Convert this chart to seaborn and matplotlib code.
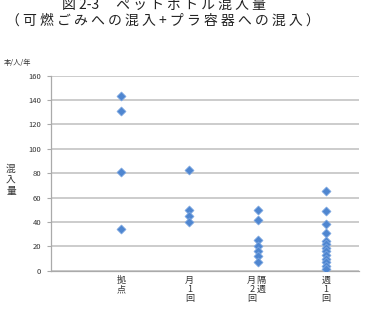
import matplotlib
matplotlib.use("Agg")
import matplotlib.pyplot as plt
import matplotlib.transforms as mtransforms
import seaborn as sns
import pandas as pd

# ---- data ----
categories = ["拠点", "月1回", "月2回/隔週", "週1回"]
kyoten = [143, 131, 81, 34]
tsuki1 = [83, 50, 45, 40]
tsuki2 = [50, 42, 25, 20, 16, 12, 7]
shu1 = [65, 49, 38, 31, 24, 22, 19, 16, 13, 10, 7, 4, 1]
tick_labels = ["拠\n点", "月\n1\n回", "月\n2\n回", "週\n1\n回"]
extra_label = "隔\n週"
y_ticks = [0, 20, 40, 60, 80, 100, 120, 140, 160]

title1 = "図 2-3　 ペ ッ ト ボ ト ル 混 入 量"
title2 = "（ 可 燃 ご み へ の 混 入 + プ ラ 容 器 へ の 混 入 ）"
unit_label = "本/人/年"
y_label = "混\n入\n量"

series = [kyoten, tsuki1, tsuki2, shu1]
df = pd.DataFrame({
    "cat": [c for c, s in zip(categories, series) for _ in s],
    "val": [v for s in series for v in s],
})

sns.set_theme(style="white")
plt.rcParams["font.family"] = ["Noto Sans CJK JP", "DejaVu Sans"]

fig = plt.figure(figsize=(3.65, 3.10), dpi=100)
ax = fig.add_axes([51 / 365, 39.3 / 310, 308 / 365, 195 / 310])

ax.set_axisbelow(True)
ax.yaxis.grid(True, color="#BEBEBE", linewidth=1.1)
ax.xaxis.grid(False)

sns.stripplot(data=df, x="cat", y="val", order=categories, jitter=False,
              marker="D", size=4.6, color="#4F86D0", edgecolor="#7FA9E2",
              linewidth=0.5, ax=ax, zorder=3)

ax.set_xlim(-1.02, 3.48)
ax.set_ylim(0, 160)
ax.set_yticks(y_ticks)
ax.set_yticklabels([str(t) for t in y_ticks], fontsize=5.5, color="#333333")
ax.tick_params(axis="y", which="major", length=3, width=0.8, color="#AAAAAA",
               pad=4, left=True)
ax.set_xticks(range(len(categories)))
ax.set_xticklabels(tick_labels, fontsize=6.5, color="#333333", linespacing=1.0,
                   va="top")
ax.tick_params(axis="x", length=0, pad=4)
# shift third tick label to make room for the second column
lab3 = ax.get_xticklabels()[2]
lab3.set_transform(lab3.get_transform() + mtransforms.ScaledTranslation(-6 / 100, 0, fig.dpi_scale_trans))
ax.text(2, 0, extra_label, transform=mtransforms.blended_transform_factory(ax.transData, ax.transAxes)
        + mtransforms.ScaledTranslation(3.5 / 100, -4 / 72, fig.dpi_scale_trans),
        ha="center", va="top", fontsize=6.5, color="#333333", linespacing=1.0)

ax.set_xlabel("")
ax.set_ylabel("")
for side in ["top", "right"]:
    ax.spines[side].set_visible(False)
for side in ["left", "bottom"]:
    ax.spines[side].set_color("#AAAAAA")
    ax.spines[side].set_linewidth(0.9)

fig.text(11 / 365, 1 - 180 / 310, y_label, ha="center", va="center",
         fontsize=7, color="#333333", linespacing=1.15)
fig.text(4 / 365, 1 - 63 / 310, unit_label, ha="left", va="center",
         fontsize=5.2, color="#333333")
fig.text(164 / 365, 1 - 5 / 310, title1, ha="center", va="center",
         fontsize=10, color="#222222")
fig.text(163 / 365, 1 - 21 / 310, title2, ha="center", va="center",
         fontsize=10, color="#222222")

fig.savefig("out.png", dpi=100, facecolor="white")
